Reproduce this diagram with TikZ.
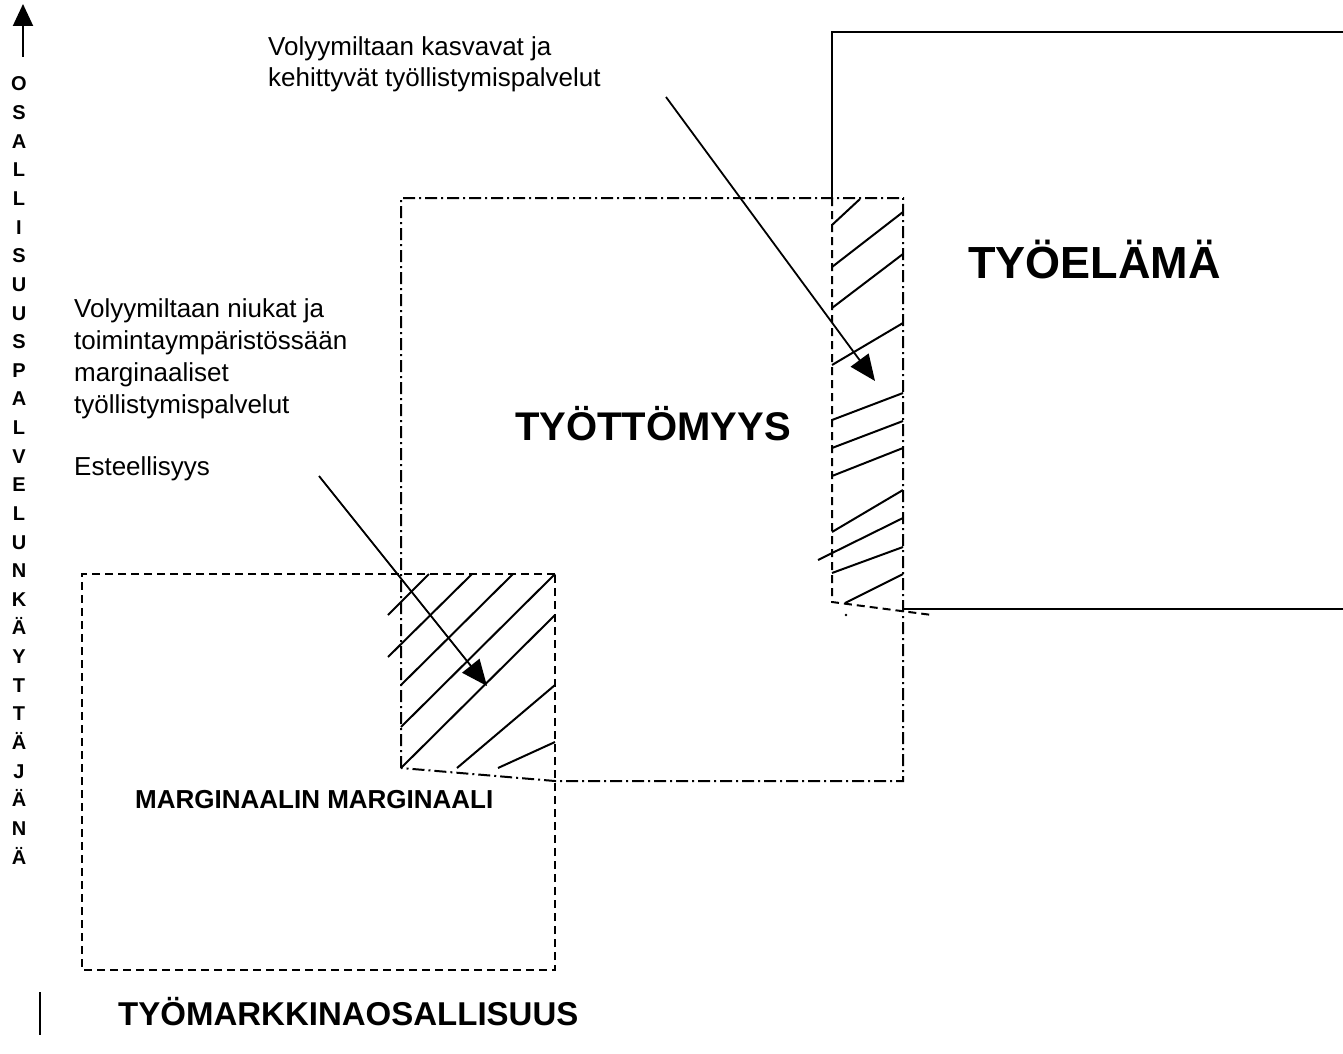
\documentclass[tikz,border=0pt]{standalone}
\usepackage{fontspec}
\setmainfont{Liberation Sans}
\usetikzlibrary{arrows.meta}
\begin{document}
\begin{tikzpicture}[x=1pt,y=-1pt,
  thinline/.style={line width=2pt},
  dashbox/.style={line width=2pt,dash pattern=on 8pt off 5pt},
  dashdotbox/.style={line width=2pt,dash pattern=on 12pt off 4pt on 2pt off 4pt},
  hatch/.style={line width=2pt},
  pointer/.style={line width=1.8pt,-{Triangle[length=26pt,width=22pt]}},
  small/.style={font=\fontsize{26}{32}\selectfont,anchor=base west,inner sep=0pt},
  bigbold/.style={font=\fontsize{#1}{#1}\selectfont\bfseries,anchor=base west,inner sep=0pt},
  vletter/.style={font=\fontsize{20}{20}\selectfont\bfseries,anchor=base,inner sep=0pt}]
\useasboundingbox[fill=white] (0,0) rectangle (1343,1054);

% working life box (open towards the right edge)
\draw[thinline] (832,198) -- (832,32) -- (1343,32);
\draw[thinline] (903,609) -- (1343,609);

% unemployment box
\draw[dashdotbox] (401,768) -- (401,198) -- (903,198) -- (903,781) -- (555,781) -- cycle;

% margin box
\draw[dashbox] (555,574) -- (82,574) -- (82,970) -- (555,970) -- cycle;

% right hatched strip
\draw[dashbox] (832,198) -- (832,602) -- (932,615);
\foreach \a/\b/\c/\d in {832/225/860/199, 832/267/903/212, 832/308/903/254,
    832/365/903/323, 832/420/903/393, 832/448/903/421, 832/476/903/448,
    832/532/903/490, 818/560/903/518, 832/573/903/547, 845/603/903/574}
  \draw[hatch] (\a,\b) -- (\c,\d);
\fill (846,615) circle (1.3pt);

% lower hatched overlap
\foreach \a/\b/\c/\d in {388/615/429/574, 388/657/472/574, 401/685/513/574,
    401/727/555/574, 401/768/555/615, 457/768/555/685, 498/768/555/742}
  \draw[hatch] (\a,\b) -- (\c,\d);

% texts
\node[small] (grow1) at (268,56) {Volyymiltaan kasvavat ja};
\node[small] (grow2) at (268,87) {kehittyvät työllistymispalvelut};
\node[small] (scarce1) at (74,317) {Volyymiltaan niukat ja};
\node[small] (scarce2) at (74,349) {toimintaympäristössään};
\node[small] (scarce3) at (74,381) {marginaaliset};
\node[small] (scarce4) at (74,413) {työllistymispalvelut};
\node[small] (obstacle) at (74,475) {Esteellisyys};
\node[bigbold=45] (worklife) at (968,278) {TYÖELÄMÄ};
\node[bigbold=40] (unemp) at (515,440) {TYÖTTÖMYYS};
\node[bigbold=26] (margmarg) at (135,808) {MARGINAALIN MARGINAALI};
\node[bigbold=33] (labour) at (118,1025) {TYÖMARKKINAOSALLISUUS};

% pointers into the hatched areas
\coordinate (p1s) at (666,97);
\coordinate (p1e) at (875,381);
\coordinate (p2s) at (319,476);
\coordinate (p2e) at (487,686);
\draw[pointer] (p1s) -- (p1e);
\draw[pointer] (p2s) -- (p2e);

% vertical axis
\coordinate (axb) at (23,57);
\coordinate (axt) at (23,4);
\draw[line width=2pt,-{Triangle[length=22pt,width=20pt]}] (axb) -- (axt);
\foreach \ch [count=\i from 0] in {O,S,A,L,L,I,S,U,U,S,P,A,L,V,E,L,U,N,K,Ä,Y,T,T,Ä,J,Ä,N,Ä}
  \node[vletter] (v\i) at (19,91+28.63*\i) {\ch};
\coordinate (bl1) at (40,992);
\coordinate (bl2) at (40,1035);
\draw[line width=2pt] (bl1) -- (bl2);
\end{tikzpicture}
\end{document}
